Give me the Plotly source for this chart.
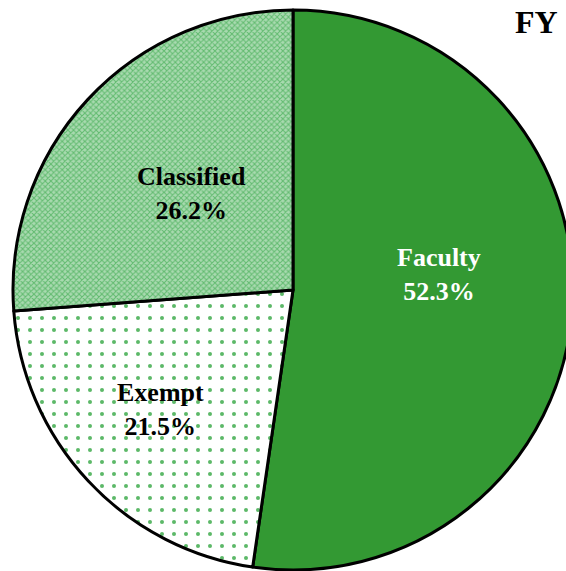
import plotly.graph_objects as go

categories = ["Faculty", "Exempt", "Classified"]
values = [52.3, 21.5, 26.2]
title_text = "FY"

W, H = 580, 571

fig = go.Figure(go.Pie(
    labels=categories,
    values=values,
    sort=False,
    direction="clockwise",
    rotation=0,
    textinfo="none",
    marker=dict(
        colors=["#339933", "white", "#a6d8ad"],
        line=dict(color="black", width=3),
        pattern=dict(
            shape=["", ".", "x"],
            fgcolor=["#339933", "#5cb868", "#62bb70"],
            bgcolor=["#339933", "white", "#a9dab0"],
            size=[8, 12, 4],
            solidity=[0.3, 0.09, 0.45],
        ),
    ),
    hoverinfo="skip",
    showlegend=False,
    domain=dict(x=[13 / W, 573 / W], y=[1 - 570 / H, 1 - 10 / H]),
))

label_pos = {"Faculty": (439, 274), "Exempt": (160, 409), "Classified": (191, 194)}
label_color = {"Faculty": "white", "Exempt": "black", "Classified": "black"}

annotations = [dict(
    text="<b>" + title_text + "</b>",
    x=536 / W, y=1 - 22 / H, xref="paper", yref="paper",
    showarrow=False, xanchor="center", yanchor="middle",
    font=dict(family="Liberation Serif", size=32, color="black"),
)]
for cat, val in zip(categories, values):
    px, py = label_pos[cat]
    annotations.append(dict(
        text=f"<b>{cat}</b><br><b>{val:.1f}%</b>",
        x=px / W, y=1 - py / H, xref="paper", yref="paper",
        showarrow=False, xanchor="center", yanchor="middle",
        font=dict(family="Liberation Serif", size=26, color=label_color[cat]),
    ))

fig.update_layout(
    width=W,
    height=H,
    margin=dict(l=0, r=0, t=0, b=0),
    paper_bgcolor="white",
    plot_bgcolor="white",
    annotations=annotations,
)

fig.write_html(
    "out.html",
    config={"displayModeBar": False},
    post_script="document.body.style.margin='0';document.body.style.overflow='hidden';document.documentElement.style.overflow='hidden';",
)
